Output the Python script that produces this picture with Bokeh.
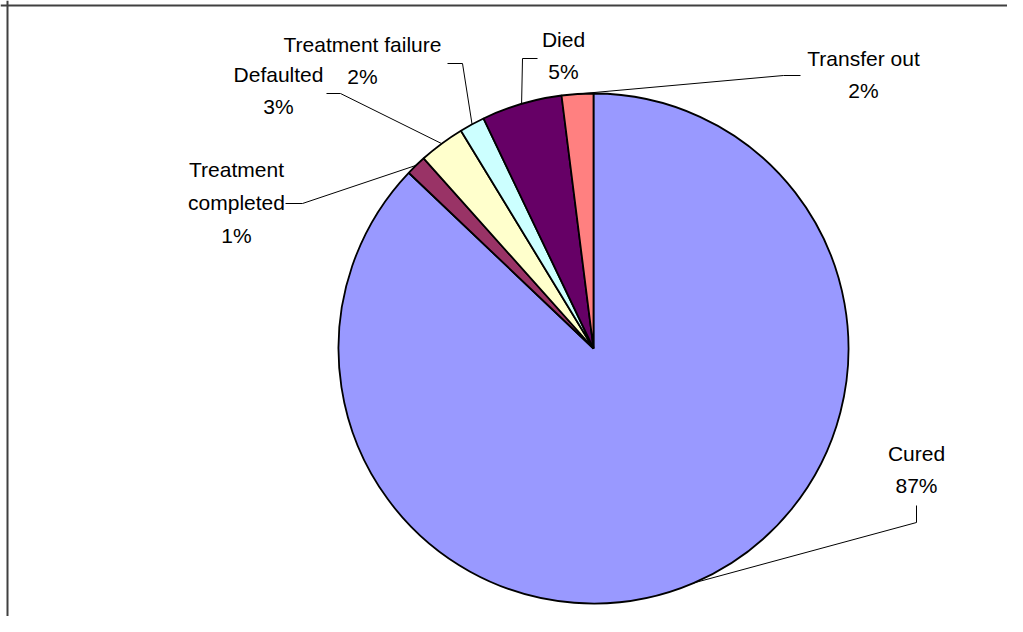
import math
from bokeh.plotting import figure
from bokeh.models import Range1d, ColumnDataSource, Span
from bokeh.core.properties import value
from bokeh.embed import file_html
from bokeh.resources import INLINE

# ---- data ----
categories = ["Cured", "Treatment completed", "Defaulted", "Treatment failure", "Died", "Transfer out"]
values = [87.1, 1.3, 2.9, 1.6, 5.1, 2.0]
colors = ["#9999FF", "#993366", "#FFFFCC", "#CCFFFF", "#660066", "#FF8080"]
label_texts = ["Cured", "Treatment\ncompleted", "Defaulted", "Treatment failure", "Died", "Transfer out"]

# ---- layout (pixels relative to pie centre, y up) ----
W, H = 1007, 616
CX, CY = 593, 348       # pie centre inside the canvas
R = 255
label_pos = [(323, -121), (-357, 146), (-315, 258), (-231, 288), (-30, 293), (270, 274)]
elbow_pos = [(323, -174), (-291, 145), (-253, 255), (-131, 285), (-71, 290), (190, 273)]
attach_pos = [(323, -157), (-308, 145), (-267, 255), (-146, 285), (-56, 290), (207, 273)]

total = sum(values)
starts, ends, mids = [], [], []
acc = 0.0
for v in values:
    a0 = math.pi / 2 - 2 * math.pi * acc / total
    acc += v
    a1 = math.pi / 2 - 2 * math.pi * acc / total
    starts.append(a0)
    ends.append(a1)
    mids.append((a0 + a1) / 2)

p = figure(width=W, height=H, output_backend="svg", toolbar_location=None,
           x_range=Range1d(-CX, W - CX), y_range=Range1d(-(H - CY), CY),
           min_border=0, x_axis_type=None, y_axis_type=None,
           outline_line_color=None, background_fill_color="white")
p.grid.visible = False

src = ColumnDataSource(dict(start=starts, end=ends, color=colors, cat=categories))
p.wedge(x=0, y=0, radius=R, start_angle="start", end_angle="end", direction="clock",
        fill_color="color", line_color="black", line_width=1.8, source=src)

# leader lines: slice mid point on rim -> elbow -> label attach
xs, ys = [], []
for m, e, a in zip(mids, elbow_pos, attach_pos):
    xs.append([R * math.cos(m), e[0], a[0]])
    ys.append([R * math.sin(m), e[1], a[1]])
p.multi_line(xs=xs, ys=ys, line_color="black", line_width=1)

texts = [f"{t}\n{round(v / total * 100)}%" for t, v in zip(label_texts, values)]
p.text(x=[q[0] for q in label_pos], y=[q[1] for q in label_pos], text=texts,
       text_font=value("Liberation Sans"), text_font_size="21px", text_color="black",
       text_align="center", text_baseline="middle", text_line_height=1.43)

# chart-area border (top and left visible)
p.add_layout(Span(location=CY - 5, dimension="width", line_color="#404040", line_width=2))
p.add_layout(Span(location=-CX + 7, dimension="height", line_color="#404040", line_width=2))

open("out.html", "w").write(file_html(p, INLINE))
